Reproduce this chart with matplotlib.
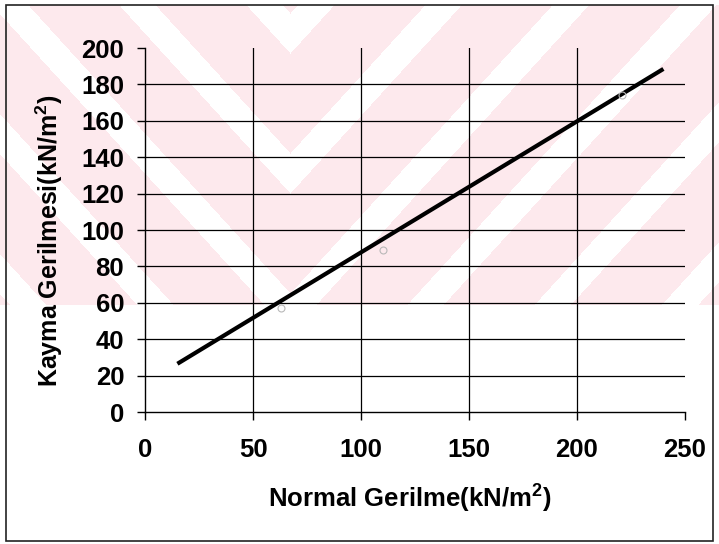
import numpy as np
import matplotlib
matplotlib.use("Agg")
import matplotlib.pyplot as plt
from matplotlib.patches import Rectangle

plt.rcParams["mathtext.fontset"] = "custom"
plt.rcParams["mathtext.rm"] = "Liberation Sans:bold"
plt.rcParams["mathtext.bf"] = "Liberation Sans:bold"

# Measured points (normal stress vs. shear stress)
normal_stress = [63, 110, 221]
shear_stress = [57, 89, 174]

# Failure envelope endpoints
fit_x = [15, 240]
fit_y = [26.5, 188.5]

x_ticks = [0, 50, 100, 150, 200, 250]
y_ticks = [0, 20, 40, 60, 80, 100, 120, 140, 160, 180, 200]

W, H, DPI = 719, 544, 100
fig = plt.figure(figsize=(W / DPI, H / DPI), dpi=DPI)
fig.patch.set_facecolor("white")

# Background chevron stamp (upper part of the page)
bg = fig.add_axes([0, 0, 1, 1], zorder=0)
bg.set_axis_off()
yy, xx = np.mgrid[0:H, 0:W]
val = yy + 1.1 * np.abs(xx - 290)
white_band = np.mod(53 - val, 140) < 40
pink = np.array([253, 233, 237]) / 255.0
img = np.ones((H, W, 3))
mask = (yy < 305) & (yy > 4) & ~white_band
img[mask] = pink
bg.imshow(img, extent=[0, W, H, 0], aspect="auto", interpolation="nearest")
bg.set_xlim(0, W)
bg.set_ylim(H, 0)
bg.add_patch(Rectangle((6, 5), 707, 536, fill=False, edgecolor="#222222", lw=1.2))

# Main axes
left, right = 145 / W, 685 / W
bottom, top = 1 - 412 / H, 1 - 48 / H
ax = fig.add_axes([left, bottom, right - left, top - bottom], zorder=1)
ax.patch.set_alpha(0)
ax.set_xlim(0, 250)
ax.set_ylim(0, 200)

for v in x_ticks[1:-1]:
    ax.axvline(v, color="black", lw=0.9, zorder=1)
for v in y_ticks[1:-1]:
    ax.axhline(v, color="black", lw=0.9, zorder=1)

ax.plot(fit_x, fit_y, color="black", lw=3.0, solid_capstyle="butt", zorder=3)
ax.plot(normal_stress, shear_stress, linestyle="none", marker="o", ms=5,
        markerfacecolor="none", markeredgecolor="#b8b8b8", mew=0.8, zorder=4)

for s in ["top", "right"]:
    ax.spines[s].set_visible(False)
for s in ["left", "bottom"]:
    ax.spines[s].set_linewidth(1.0)
    ax.spines[s].set_color("black")

font = "Liberation Sans"
ax.set_xticks(x_ticks)
ax.set_yticks(y_ticks)
ax.set_xticklabels([str(v) for v in x_ticks], fontfamily=font, fontweight="bold", fontsize=18.5)
ax.set_yticklabels([str(v) for v in y_ticks], fontfamily=font, fontweight="bold", fontsize=18.5)
ax.tick_params(axis="x", direction="out", length=6, width=1.0, pad=13)
ax.tick_params(axis="y", direction="out", length=6, width=1.0, pad=9)

fig.text(410 / W, 1 - 498 / H, r"Normal Gerilme(kN/m$^{\mathbf{2}}$)", ha="center", va="center",
         fontfamily=font, fontweight="bold", fontsize=18.5)
fig.text(49 / W, 1 - 241 / H, r"Kayma Gerilmesi(kN/m$^{\mathbf{2}}$)", ha="center", va="center",
         rotation=90, fontfamily=font, fontweight="bold", fontsize=18)

fig.savefig("out.png", dpi=DPI)
